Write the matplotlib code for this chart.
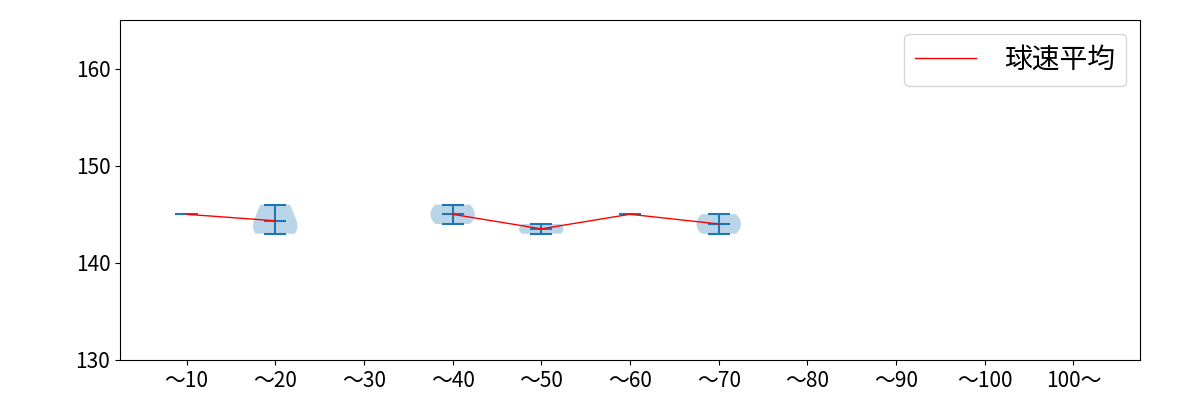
import matplotlib
matplotlib.use("Agg")
import matplotlib.pyplot as plt
import numpy as np

plt.rcParams['font.family'] = ['Noto Sans CJK JP', 'DejaVu Sans']

labels = ["～10", "～20", "～30", "～40", "～50", "～60", "～70", "～80", "～90", "～100", "100～"]
speeds = [
    [145],
    [143, 144, 146],
    [],
    [144, 145, 146],
    [143, 144],
    [145],
    [143, 144, 145],
    [],
    [],
    [],
    [],
]
means = [np.mean(s) if len(s) else np.nan for s in speeds]

fig, ax = plt.subplots(figsize=(12, 4), dpi=100)
fig.subplots_adjust(left=0.1, right=0.95, top=0.95, bottom=0.1)

positions = np.arange(1, len(labels) + 1)
multi_pos = [p for p, s in zip(positions, speeds) if len(s) > 1]
multi_data = [s for s in speeds if len(s) > 1]
ax.violinplot(multi_data, positions=multi_pos, showmeans=True, showextrema=True)
for p, s in zip(positions, speeds):
    if len(s) == 1:
        ax.hlines(s[0], p - 0.125, p + 0.125, color='C0', lw=1.5)

ax.plot(positions, means, color='red', lw=1, label='球速平均')

ax.set_xticks(positions)
ax.set_xticklabels(labels, fontsize=15)
ax.set_xlim(0.25, 11.75)
ax.set_ylim(130, 165)
ax.set_yticks([130, 140, 150, 160])
ax.tick_params(axis='y', labelsize=15)
ax.legend(loc='upper right', fontsize=20, handlelength=2.2, handletextpad=1.0)

fig.savefig("out.png")
